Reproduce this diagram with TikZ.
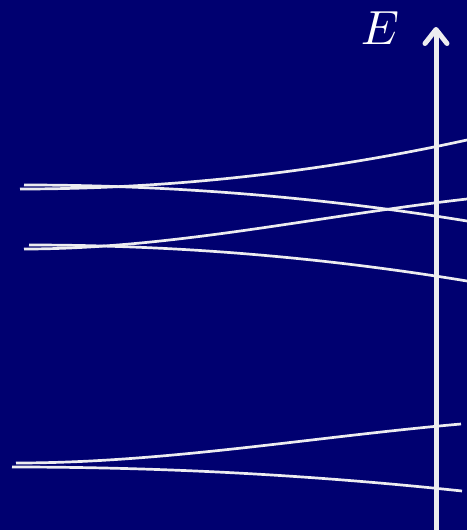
\documentclass[tikz,border=0pt]{standalone}
\usetikzlibrary{arrows.meta}
\definecolor{bgnavy}{RGB}{0,0,112}
\definecolor{lineW}{RGB}{236,236,240}
\begin{document}
\begin{tikzpicture}[x=1pt,y=-1pt,
  band/.style={draw=lineW,line width=2.7pt},
  axis/.style={draw=lineW,line width=5pt,-{Straight Barb[length=14pt,width=22pt,round]}}]
\fill[bgnavy] (0,0) rectangle (467,530);
\useasboundingbox (0,0) rectangle (467,530);
% pair 1
\coordinate (a1) at (20,189); \coordinate (a2) at (467,140);
\coordinate (b1) at (24,185); \coordinate (b2) at (467,221);
% pair 2
\coordinate (c1) at (24,249); \coordinate (c2) at (467,199);
\coordinate (d1) at (29,245); \coordinate (d2) at (467,281);
% pair 3
\coordinate (e1) at (16,463); \coordinate (e2) at (461,424);
\coordinate (f1) at (12,467); \coordinate (f2) at (462,491);
\draw[band] (a1) .. controls (169,189) and (318,172.7) .. (a2);
\draw[band] (b1) .. controls (171.7,185) and (319.3,197) .. (b2);
\draw[band] (c1) .. controls (171.7,249) and (319.3,215.7) .. (c2);
\draw[band] (d1) .. controls (175,245) and (321,257) .. (d2);
\draw[band] (e1) .. controls (164.3,463) and (312.3,437) .. (e2);
\draw[band] (f1) .. controls (162,467) and (312,475) .. (f2);
% axis
\coordinate (ax0) at (436,530);
\coordinate (ax1) at (436,27);
\draw[axis] (ax0) -- (ax1);
\node[text=white,scale=4.8,inner sep=0pt] (E) at (380,28) {$E$};
\end{tikzpicture}
\end{document}
